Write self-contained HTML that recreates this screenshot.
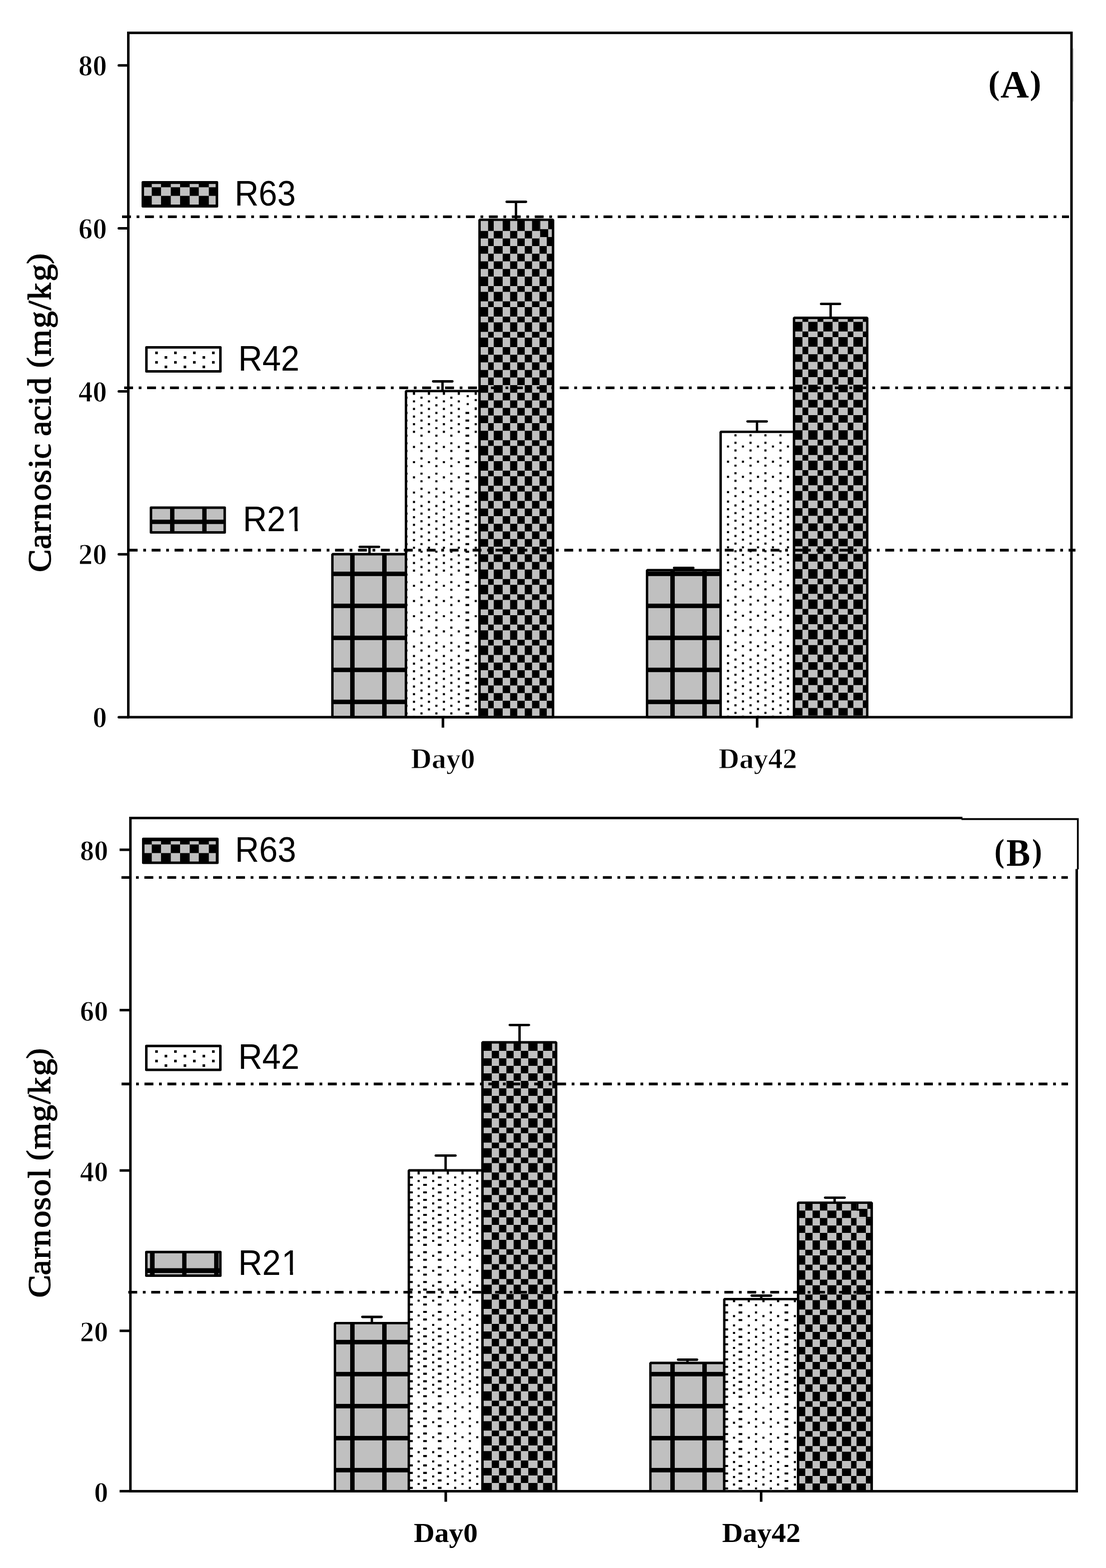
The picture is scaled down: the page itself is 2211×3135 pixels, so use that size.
<!DOCTYPE html>
<html lang="en">
<head>
<meta charset="utf-8">
<title>Carnosic acid and carnosol</title>
<style>
html,body{margin:0;padding:0;background:#fff}
svg{display:block}
</style>
</head>
<body>
<svg xmlns="http://www.w3.org/2000/svg" width="2211" height="3135" viewBox="0 0 2211 3135" shape-rendering="geometricPrecision">
<rect width="2211" height="3135" fill="#fff"/>
<defs>
<pattern id="grid" patternUnits="userSpaceOnUse" x="700" y="1142.9" width="64" height="64"><rect width="64" height="64" fill="#c0c0c0"/><rect width="8.9" height="64" fill="#000"/><rect width="64" height="8.9" fill="#000"/></pattern>
<clipPath id="k1"><rect x="813" y="783.2" width="144.2" height="650.7"/></clipPath>
<path id="d2" d="M825.5 0h4.2v4.2h-4.2zM855.4 0h4.2v4.2h-4.2zM885.3 0h4.2v4.2h-4.2zM915.1 0h4.2v4.2h-4.2zM948.9 0h4.2v4.2h-4.2z"/>
<path id="d3" d="M810.5 0h4.2v4.2h-4.2zM840.5 0h4.2v4.2h-4.2zM870.3 0h4.2v4.2h-4.2zM900.2 0h4.2v4.2h-4.2zM930.55 0h7.3v4.2h-7.3z"/>
<clipPath id="k4"><rect x="960" y="440.8" width="144.3" height="993.1"/></clipPath>
<path id="r5" d="M961 0h14.8v1h-14.8zM987 0h17.9v1h-17.9zM1019.8 0h14.3v1h-14.3zM1049 0h14.6v1h-14.6zM1078.5 0h14.5v1h-14.5z"/>
<path id="r6" d="M975.8 0h11.2v1h-11.2zM1004.9 0h14.9v1h-14.9zM1034.1 0h14.9v1h-14.9zM1063.6 0h14.9v1h-14.9zM1093 0h10.3v1h-10.3z"/>
<clipPath id="k7"><rect x="1442" y="864.8" width="143.9" height="569.1"/></clipPath>
<path id="d8" d="M1453.3 0h4.2v4.2h-4.2zM1483.1 0h4.2v4.2h-4.2zM1513.2 0h4.2v4.2h-4.2zM1543.1 0h4.2v4.2h-4.2zM1573.1 0h4.2v4.2h-4.2z"/>
<path id="d9" d="M1438.3 0h4.2v4.2h-4.2zM1468.2 0h4.2v4.2h-4.2zM1498.3 0h4.2v4.2h-4.2zM1528.1 0h4.2v4.2h-4.2zM1558.2 0h4.2v4.2h-4.2z"/>
<clipPath id="k10"><rect x="1588.7" y="636.9" width="143.6" height="797"/></clipPath>
<path id="r11" d="M1589 0h15.2v1h-15.2zM1615.8 0h18.6v1h-18.6zM1645.9 0h18.5v1h-18.5zM1676.1 0h18.6v1h-18.6zM1706 0h18.9v1h-18.9z"/>
<path id="r12" d="M1604.2 0h11.6v1h-11.6zM1634.4 0h11.5v1h-11.5zM1664.4 0h11.7v1h-11.7zM1694.7 0h11.3v1h-11.3zM1724.9 0h7.4v1h-7.4z"/>
<clipPath id="c13"><rect x="285.5" y="364.5" width="148.2" height="47.9"/></clipPath>
<clipPath id="k13"><rect x="818.7" y="2341.4" width="144.3" height="640"/></clipPath>
<path id="d14" d="M834.8 0h4.2v4.1h-4.2zM863.9 0h4.2v4.1h-4.2zM893.2 0h4.2v4.1h-4.2zM922.5 0h4.2v4.1h-4.2zM952 0h4.2v4.1h-4.2z"/>
<path id="d15" d="M817.95 0h7.3v4.1h-7.3zM846.05 0h7.3v4.1h-7.3zM875.35 0h7.3v4.1h-7.3zM907.9 0h4.2v4.1h-4.2zM937.2 0h4.2v4.1h-4.2z"/>
<clipPath id="k16"><rect x="965.8" y="2085.4" width="144.6" height="896"/></clipPath>
<path id="r17" d="M966.8 0h16.3v1h-16.3zM997.6 0h14.7v1h-14.7zM1026.8 0h14.5v1h-14.5zM1056.1 0h18.5v1h-18.5zM1085.7 0h18.4v1h-18.4z"/>
<path id="r18" d="M983.1 0h14.5v1h-14.5zM1012.3 0h14.5v1h-14.5zM1041.3 0h14.8v1h-14.8zM1074.6 0h11.1v1h-11.1zM1104.1 0h5.9v1h-5.9z"/>
<clipPath id="k19"><rect x="1449.3" y="2598.8" width="144.7" height="382.6"/></clipPath>
<path id="d20" d="M1465.3 0h4.2v4.1h-4.2zM1494.8 0h4.2v4.1h-4.2zM1524.1 0h4.2v4.1h-4.2zM1553.4 0h4.2v4.1h-4.2zM1586.9 0h4.2v4.1h-4.2z"/>
<path id="d21" d="M1448.25 0h7.3v4.1h-7.3zM1476.55 0h7.3v4.1h-7.3zM1509.3 0h4.2v4.1h-4.2zM1538.8 0h4.2v4.1h-4.2zM1568.45 0h7.3v4.1h-7.3z"/>
<clipPath id="k22"><rect x="1596.8" y="2406.1" width="144.5" height="575.3"/></clipPath>
<path id="r23" d="M1598 0h11.8v1h-11.8zM1624.4 0h14.7v1h-14.7zM1653.9 0h18.2v1h-18.2zM1683.2 0h18.2v1h-18.2zM1712.3 0h18.7v1h-18.7z"/>
<path id="r24" d="M1609.8 0h14.6v1h-14.6zM1639.1 0h14.8v1h-14.8zM1672.1 0h11.1v1h-11.1zM1701.4 0h10.9v1h-10.9zM1731 0h9v1h-9z"/>
<clipPath id="c26"><rect x="286.4" y="1677.2" width="148.2" height="47.8"/></clipPath>
</defs>
<!-- panel A -->
<rect x="664.5" y="1108" width="147.1" height="325.9" fill="url(#grid)" stroke="#000" stroke-width="4.8" stroke-linejoin="bevel"/>
<rect x="811.6" y="781.8" width="147" height="652.1" fill="#fff"/>
<g clip-path="url(#k1)" fill="#000">
<use href="#d2" y="770.03"/>
<use href="#d3" y="777.93"/>
<use href="#d2" y="783.2"/>
<use href="#d2" y="785.22"/>
<use href="#d3" y="793.12"/>
<use href="#d2" y="800.42"/>
<use href="#d3" y="808.32"/>
<use href="#d2" y="815.61"/>
<use href="#d3" y="823.51"/>
<use href="#d2" y="830.81"/>
<use href="#d3" y="838.71"/>
<use href="#d2" y="846"/>
<use href="#d3" y="853.9"/>
<use href="#d2" y="861.2"/>
<use href="#d3" y="869.1"/>
<use href="#d3" y="884.17"/>
<use href="#d2" y="891.56"/>
<use href="#d3" y="899.46"/>
<use href="#d3" y="914.53"/>
<use href="#d2" y="921.91"/>
<use href="#d3" y="929.81"/>
<use href="#d3" y="944.89"/>
<use href="#d2" y="952.27"/>
<use href="#d3" y="960.17"/>
<use href="#d3" y="975.24"/>
<use href="#d2" y="982.63"/>
<use href="#d3" y="990.53"/>
<use href="#d2" y="1001.6"/>
<use href="#d3" y="1009.5"/>
<use href="#d2" y="1016.84"/>
<use href="#d3" y="1024.74"/>
<use href="#d2" y="1032.09"/>
<use href="#d3" y="1039.99"/>
<use href="#d2" y="1047.33"/>
<use href="#d3" y="1055.23"/>
<use href="#d2" y="1062.58"/>
<use href="#d3" y="1070.48"/>
<use href="#d2" y="1077.82"/>
<use href="#d3" y="1085.72"/>
<use href="#d2" y="1093.07"/>
<use href="#d3" y="1100.97"/>
<use href="#d2" y="1108.31"/>
<use href="#d3" y="1116.21"/>
<use href="#d2" y="1123.56"/>
<use href="#d3" y="1131.46"/>
<use href="#d2" y="1138.8"/>
<use href="#d3" y="1146.7"/>
<use href="#d3" y="1161.78"/>
<use href="#d2" y="1169.16"/>
<use href="#d3" y="1177.06"/>
<use href="#d3" y="1192.14"/>
<use href="#d2" y="1199.53"/>
<use href="#d3" y="1207.43"/>
<use href="#d3" y="1222.51"/>
<use href="#d2" y="1229.89"/>
<use href="#d3" y="1237.79"/>
<use href="#d3" y="1252.87"/>
<use href="#d2" y="1260.26"/>
<use href="#d3" y="1268.16"/>
<use href="#d3" y="1283.24"/>
<use href="#d2" y="1290.62"/>
<use href="#d3" y="1298.52"/>
<use href="#d2" y="1309.6"/>
<use href="#d3" y="1317.5"/>
<use href="#d2" y="1324.85"/>
<use href="#d3" y="1332.75"/>
<use href="#d2" y="1340.1"/>
<use href="#d3" y="1348"/>
<use href="#d2" y="1355.35"/>
<use href="#d3" y="1363.25"/>
<use href="#d2" y="1370.6"/>
<use href="#d3" y="1378.5"/>
<use href="#d2" y="1385.85"/>
<use href="#d3" y="1393.75"/>
<use href="#d2" y="1401.1"/>
<use href="#d3" y="1409"/>
<use href="#d2" y="1416.35"/>
<use href="#d3" y="1424.25"/>
<use href="#d2" y="1431.6"/>
<use href="#d3" y="1439.5"/>
<rect x="929" y="790" width="11" height="25" fill="#fff"/>
<rect x="932.9" y="789.9" width="4.2" height="4.2" fill="#000"/>
<rect x="932.9" y="805.8" width="4.2" height="4.2" fill="#000"/>
<rect x="947.5" y="796" width="7.5" height="26" fill="#fff"/>
<rect x="948.9" y="797.8" width="4.2" height="4.2" fill="#000"/>
<rect x="948.9" y="814.5" width="4.2" height="5.2" fill="#000"/>
</g>
<rect x="811.6" y="781.8" width="147" height="652.1" fill="none" stroke="#000" stroke-width="4.8" stroke-linejoin="bevel"/>
<rect x="958.6" y="439.4" width="147.1" height="994.5" fill="#000"/>
<g clip-path="url(#k4)" fill="#c0c0c0">
<use href="#r5" transform="translate(0 441) scale(1 20.63)"/>
<use href="#r6" transform="translate(0 461.63) scale(1 15.23)"/>
<use href="#r5" transform="translate(0 476.86) scale(1 15.23)"/>
<use href="#r6" transform="translate(0 492.09) scale(1 15.23)"/>
<use href="#r5" transform="translate(0 507.31) scale(1 15.23)"/>
<use href="#r6" transform="translate(0 522.54) scale(1 15.23)"/>
<use href="#r5" transform="translate(0 537.77) scale(1 15.23)"/>
<use href="#r6" transform="translate(0 553) scale(1 19.06)"/>
<use href="#r5" transform="translate(0 572.06) scale(1 11.44)"/>
<use href="#r6" transform="translate(0 583.5) scale(1 19.06)"/>
<use href="#r5" transform="translate(0 602.56) scale(1 11.44)"/>
<use href="#r6" transform="translate(0 613.99) scale(1 19.06)"/>
<use href="#r5" transform="translate(0 633.06) scale(1 11.44)"/>
<use href="#r6" transform="translate(0 644.49) scale(1 19.06)"/>
<use href="#r5" transform="translate(0 663.55) scale(1 11.44)"/>
<use href="#r6" transform="translate(0 674.99) scale(1 19.06)"/>
<use href="#r5" transform="translate(0 694.05) scale(1 15.2)"/>
<use href="#r6" transform="translate(0 709.25) scale(1 15.2)"/>
<use href="#r5" transform="translate(0 724.44) scale(1 15.2)"/>
<use href="#r6" transform="translate(0 739.64) scale(1 15.2)"/>
<use href="#r5" transform="translate(0 754.83) scale(1 15.2)"/>
<use href="#r6" transform="translate(0 770.03) scale(1 15.2)"/>
<use href="#r5" transform="translate(0 785.22) scale(1 15.2)"/>
<use href="#r6" transform="translate(0 800.42) scale(1 15.2)"/>
<use href="#r5" transform="translate(0 815.61) scale(1 15.2)"/>
<use href="#r6" transform="translate(0 830.81) scale(1 15.2)"/>
<use href="#r5" transform="translate(0 846) scale(1 15.2)"/>
<use href="#r6" transform="translate(0 861.2) scale(1 18.97)"/>
<use href="#r5" transform="translate(0 880.17) scale(1 11.38)"/>
<use href="#r6" transform="translate(0 891.56) scale(1 18.97)"/>
<use href="#r5" transform="translate(0 910.53) scale(1 11.38)"/>
<use href="#r6" transform="translate(0 921.91) scale(1 18.97)"/>
<use href="#r5" transform="translate(0 940.89) scale(1 11.38)"/>
<use href="#r6" transform="translate(0 952.27) scale(1 18.97)"/>
<use href="#r5" transform="translate(0 971.24) scale(1 11.38)"/>
<use href="#r6" transform="translate(0 982.63) scale(1 18.97)"/>
<use href="#r5" transform="translate(0 1001.6) scale(1 15.24)"/>
<use href="#r6" transform="translate(0 1016.84) scale(1 15.24)"/>
<use href="#r5" transform="translate(0 1032.09) scale(1 15.24)"/>
<use href="#r6" transform="translate(0 1047.33) scale(1 15.24)"/>
<use href="#r5" transform="translate(0 1062.58) scale(1 15.24)"/>
<use href="#r6" transform="translate(0 1077.82) scale(1 15.24)"/>
<use href="#r5" transform="translate(0 1093.07) scale(1 15.24)"/>
<use href="#r6" transform="translate(0 1108.31) scale(1 15.24)"/>
<use href="#r5" transform="translate(0 1123.56) scale(1 15.24)"/>
<use href="#r6" transform="translate(0 1138.8) scale(1 18.98)"/>
<use href="#r5" transform="translate(0 1157.78) scale(1 11.39)"/>
<use href="#r6" transform="translate(0 1169.16) scale(1 18.98)"/>
<use href="#r5" transform="translate(0 1188.14) scale(1 11.39)"/>
<use href="#r6" transform="translate(0 1199.53) scale(1 18.98)"/>
<use href="#r5" transform="translate(0 1218.51) scale(1 11.39)"/>
<use href="#r6" transform="translate(0 1229.89) scale(1 18.98)"/>
<use href="#r5" transform="translate(0 1248.87) scale(1 11.39)"/>
<use href="#r6" transform="translate(0 1260.26) scale(1 18.98)"/>
<use href="#r5" transform="translate(0 1279.24) scale(1 11.39)"/>
<use href="#r6" transform="translate(0 1290.62) scale(1 18.98)"/>
<use href="#r5" transform="translate(0 1309.6) scale(1 15.25)"/>
<use href="#r6" transform="translate(0 1324.85) scale(1 15.25)"/>
<use href="#r5" transform="translate(0 1340.1) scale(1 15.25)"/>
<use href="#r6" transform="translate(0 1355.35) scale(1 15.25)"/>
<use href="#r5" transform="translate(0 1370.6) scale(1 15.25)"/>
<use href="#r6" transform="translate(0 1385.85) scale(1 15.25)"/>
<use href="#r5" transform="translate(0 1401.1) scale(1 15.25)"/>
<use href="#r6" transform="translate(0 1416.35) scale(1 15.25)"/>
<use href="#r5" transform="translate(0 1431.6) scale(1 15.25)"/>
<rect x="1078.5" y="440" width="25.5" height="37" fill="#000"/>
<rect x="1080.1" y="440" width="15.8" height="18.2" fill="#c0c0c0"/>
<rect x="1095.9" y="458.3" width="7.6" height="15.6" fill="#c0c0c0"/>
<rect x="1078" y="461.6" width="1.8" height="12.5" fill="#c0c0c0"/>
<rect x="1078.5" y="474" width="14.5" height="3.3" fill="#c0c0c0"/>
</g>
<rect x="958.6" y="439.4" width="147.1" height="994.5" fill="none" stroke="#000" stroke-width="4.8" stroke-linejoin="bevel"/>
<rect x="1293.5" y="1140" width="147.1" height="293.9" fill="url(#grid)" stroke="#000" stroke-width="4.8" stroke-linejoin="bevel"/>
<rect x="1440.6" y="863.4" width="146.7" height="570.5" fill="#fff"/>
<g clip-path="url(#k7)" fill="#000">
<use href="#d8" y="845.1"/>
<use href="#d9" y="853"/>
<use href="#d8" y="860.3"/>
<use href="#d9" y="868.2"/>
<use href="#d9" y="883.27"/>
<use href="#d8" y="890.66"/>
<use href="#d9" y="898.56"/>
<use href="#d9" y="913.63"/>
<use href="#d8" y="921.01"/>
<use href="#d9" y="928.91"/>
<use href="#d9" y="943.99"/>
<use href="#d8" y="951.37"/>
<use href="#d9" y="959.27"/>
<use href="#d9" y="974.34"/>
<use href="#d8" y="981.73"/>
<use href="#d9" y="989.63"/>
<use href="#d8" y="1000.7"/>
<use href="#d9" y="1008.6"/>
<use href="#d8" y="1015.94"/>
<use href="#d9" y="1023.84"/>
<use href="#d8" y="1031.19"/>
<use href="#d9" y="1039.09"/>
<use href="#d8" y="1046.43"/>
<use href="#d9" y="1054.33"/>
<use href="#d8" y="1061.68"/>
<use href="#d9" y="1069.58"/>
<use href="#d8" y="1076.92"/>
<use href="#d9" y="1084.82"/>
<use href="#d8" y="1092.17"/>
<use href="#d9" y="1100.07"/>
<use href="#d8" y="1107.41"/>
<use href="#d9" y="1115.31"/>
<use href="#d8" y="1122.66"/>
<use href="#d9" y="1130.56"/>
<use href="#d8" y="1137.9"/>
<use href="#d9" y="1145.8"/>
<use href="#d9" y="1160.88"/>
<use href="#d8" y="1168.26"/>
<use href="#d9" y="1176.16"/>
<use href="#d9" y="1191.24"/>
<use href="#d8" y="1198.63"/>
<use href="#d9" y="1206.53"/>
<use href="#d9" y="1221.61"/>
<use href="#d8" y="1228.99"/>
<use href="#d9" y="1236.89"/>
<use href="#d9" y="1251.97"/>
<use href="#d8" y="1259.36"/>
<use href="#d9" y="1267.26"/>
<use href="#d9" y="1282.34"/>
<use href="#d8" y="1289.72"/>
<use href="#d9" y="1297.62"/>
<use href="#d8" y="1308.7"/>
<use href="#d9" y="1316.6"/>
<use href="#d8" y="1323.95"/>
<use href="#d9" y="1331.85"/>
<use href="#d8" y="1339.2"/>
<use href="#d9" y="1347.1"/>
<use href="#d8" y="1354.45"/>
<use href="#d9" y="1362.35"/>
<use href="#d8" y="1369.7"/>
<use href="#d9" y="1377.6"/>
<use href="#d8" y="1384.95"/>
<use href="#d9" y="1392.85"/>
<use href="#d8" y="1400.2"/>
<use href="#d9" y="1408.1"/>
<use href="#d8" y="1415.45"/>
<use href="#d9" y="1423.35"/>
<use href="#d8" y="1430.7"/>
<use href="#d9" y="1438.6"/>
</g>
<rect x="1440.6" y="863.4" width="146.7" height="570.5" fill="none" stroke="#000" stroke-width="4.8" stroke-linejoin="bevel"/>
<rect x="1587.3" y="635.5" width="146.4" height="798.4" fill="#000"/>
<g clip-path="url(#k10)" fill="#c0c0c0">
<use href="#r11" transform="translate(0 632.16) scale(1 11.44)"/>
<use href="#r12" transform="translate(0 643.59) scale(1 19.06)"/>
<use href="#r11" transform="translate(0 662.65) scale(1 11.44)"/>
<use href="#r12" transform="translate(0 674.09) scale(1 19.06)"/>
<use href="#r11" transform="translate(0 693.15) scale(1 15.2)"/>
<use href="#r12" transform="translate(0 708.35) scale(1 15.2)"/>
<use href="#r11" transform="translate(0 723.54) scale(1 15.2)"/>
<use href="#r12" transform="translate(0 738.74) scale(1 15.2)"/>
<use href="#r11" transform="translate(0 753.93) scale(1 15.2)"/>
<use href="#r12" transform="translate(0 769.13) scale(1 15.2)"/>
<use href="#r11" transform="translate(0 784.32) scale(1 15.2)"/>
<use href="#r12" transform="translate(0 799.52) scale(1 15.2)"/>
<use href="#r11" transform="translate(0 814.71) scale(1 15.2)"/>
<use href="#r12" transform="translate(0 829.91) scale(1 15.2)"/>
<use href="#r11" transform="translate(0 845.1) scale(1 15.2)"/>
<use href="#r12" transform="translate(0 860.3) scale(1 18.97)"/>
<use href="#r11" transform="translate(0 879.27) scale(1 11.38)"/>
<use href="#r12" transform="translate(0 890.66) scale(1 18.97)"/>
<use href="#r11" transform="translate(0 909.63) scale(1 11.38)"/>
<use href="#r12" transform="translate(0 921.01) scale(1 18.97)"/>
<use href="#r11" transform="translate(0 939.99) scale(1 11.38)"/>
<use href="#r12" transform="translate(0 951.37) scale(1 18.97)"/>
<use href="#r11" transform="translate(0 970.34) scale(1 11.38)"/>
<use href="#r12" transform="translate(0 981.73) scale(1 18.97)"/>
<use href="#r11" transform="translate(0 1000.7) scale(1 15.24)"/>
<use href="#r12" transform="translate(0 1015.94) scale(1 15.24)"/>
<use href="#r11" transform="translate(0 1031.19) scale(1 15.24)"/>
<use href="#r12" transform="translate(0 1046.43) scale(1 15.24)"/>
<use href="#r11" transform="translate(0 1061.68) scale(1 15.24)"/>
<use href="#r12" transform="translate(0 1076.92) scale(1 15.24)"/>
<use href="#r11" transform="translate(0 1092.17) scale(1 15.24)"/>
<use href="#r12" transform="translate(0 1107.41) scale(1 15.24)"/>
<use href="#r11" transform="translate(0 1122.66) scale(1 15.24)"/>
<use href="#r12" transform="translate(0 1137.9) scale(1 18.98)"/>
<use href="#r11" transform="translate(0 1156.88) scale(1 11.39)"/>
<use href="#r12" transform="translate(0 1168.26) scale(1 18.98)"/>
<use href="#r11" transform="translate(0 1187.24) scale(1 11.39)"/>
<use href="#r12" transform="translate(0 1198.63) scale(1 18.98)"/>
<use href="#r11" transform="translate(0 1217.61) scale(1 11.39)"/>
<use href="#r12" transform="translate(0 1228.99) scale(1 18.98)"/>
<use href="#r11" transform="translate(0 1247.97) scale(1 11.39)"/>
<use href="#r12" transform="translate(0 1259.36) scale(1 18.98)"/>
<use href="#r11" transform="translate(0 1278.34) scale(1 11.39)"/>
<use href="#r12" transform="translate(0 1289.72) scale(1 18.98)"/>
<use href="#r11" transform="translate(0 1308.7) scale(1 15.25)"/>
<use href="#r12" transform="translate(0 1323.95) scale(1 15.25)"/>
<use href="#r11" transform="translate(0 1339.2) scale(1 15.25)"/>
<use href="#r12" transform="translate(0 1354.45) scale(1 15.25)"/>
<use href="#r11" transform="translate(0 1369.7) scale(1 15.25)"/>
<use href="#r12" transform="translate(0 1384.95) scale(1 15.25)"/>
<use href="#r11" transform="translate(0 1400.2) scale(1 15.25)"/>
<use href="#r12" transform="translate(0 1415.45) scale(1 15.25)"/>
<use href="#r11" transform="translate(0 1430.7) scale(1 15.25)"/>
</g>
<rect x="1587.3" y="635.5" width="146.4" height="798.4" fill="none" stroke="#000" stroke-width="4.8" stroke-linejoin="bevel"/>
<rect x="256.5" y="65.7" width="1885.5" height="1368.2" fill="none" stroke="#000" stroke-width="5"/>
<path d="M237.5 1433.9H256.5" stroke="#000" stroke-width="5" stroke-linecap="round" fill="none"/>
<text transform="translate(213.7 1454.1) scale(1 1.024)" font-family='"Liberation Serif", "DejaVu Serif", serif' font-size="57" font-weight="bold" text-anchor="end" fill="#000" stroke="#fff" stroke-width="1.2">0</text>
<path d="M237.5 1108.14H256.5" stroke="#000" stroke-width="5" stroke-linecap="round" fill="none"/>
<text transform="translate(213.7 1128.34) scale(1 1.024)" font-family='"Liberation Serif", "DejaVu Serif", serif' font-size="57" font-weight="bold" text-anchor="end" fill="#000" stroke="#fff" stroke-width="1.2">20</text>
<path d="M237.5 782.38H256.5" stroke="#000" stroke-width="5" stroke-linecap="round" fill="none"/>
<text transform="translate(213.7 802.58) scale(1 1.024)" font-family='"Liberation Serif", "DejaVu Serif", serif' font-size="57" font-weight="bold" text-anchor="end" fill="#000" stroke="#fff" stroke-width="1.2">40</text>
<path d="M237.5 456.62H256.5" stroke="#000" stroke-width="5" stroke-linecap="round" fill="none"/>
<text transform="translate(213.7 476.82) scale(1 1.024)" font-family='"Liberation Serif", "DejaVu Serif", serif' font-size="57" font-weight="bold" text-anchor="end" fill="#000" stroke="#fff" stroke-width="1.2">60</text>
<path d="M237.5 130.86H256.5" stroke="#000" stroke-width="5" stroke-linecap="round" fill="none"/>
<text transform="translate(213.7 151.06) scale(1 1.024)" font-family='"Liberation Serif", "DejaVu Serif", serif' font-size="57" font-weight="bold" text-anchor="end" fill="#000" stroke="#fff" stroke-width="1.2">80</text>
<path d="M885.5 1433.9V1454.8" stroke="#000" stroke-width="5.2" fill="none"/>
<text transform="translate(885.5 1536.3) scale(1 0.992)" font-family='"Liberation Serif", "DejaVu Serif", serif' font-size="57.8" font-weight="bold" text-anchor="middle" fill="#000" stroke="#fff" stroke-width="1">Day0</text>
<path d="M1513.6 1433.9V1454.8" stroke="#000" stroke-width="5.2" fill="none"/>
<text transform="translate(1514.8 1536.3) scale(1 0.992)" font-family='"Liberation Serif", "DejaVu Serif", serif' font-size="57.8" font-weight="bold" text-anchor="middle" fill="#000" stroke="#fff" stroke-width="1">Day42</text>
<path d="M738.6 1093.4V1108" stroke="#000" stroke-width="4.8" fill="none"/>
<path d="M719.1 1093.4H757.7" stroke="#000" stroke-width="4.8" stroke-linecap="round" fill="none"/>
<path d="M884.6 762.5V781.8" stroke="#000" stroke-width="4.8" fill="none"/>
<path d="M865.9 762.5H904.4" stroke="#000" stroke-width="4.8" stroke-linecap="round" fill="none"/>
<path d="M1031.5 403.5V439.4" stroke="#000" stroke-width="4.8" fill="none"/>
<path d="M1012.8 403.5H1051.5" stroke="#000" stroke-width="4.8" stroke-linecap="round" fill="none"/>
<path d="M1366.8 1135.5V1140" stroke="#000" stroke-width="4.8" fill="none"/>
<path d="M1347.5 1135.5H1386.1" stroke="#000" stroke-width="4.8" stroke-linecap="round" fill="none"/>
<path d="M1513.3 842.6V863.4" stroke="#000" stroke-width="4.8" fill="none"/>
<path d="M1494.3 842.6H1532.8" stroke="#000" stroke-width="4.8" stroke-linecap="round" fill="none"/>
<path d="M1660.5 607.7V635.5" stroke="#000" stroke-width="4.8" fill="none"/>
<path d="M1641.4 607.7H1679.3" stroke="#000" stroke-width="4.8" stroke-linecap="round" fill="none"/>
<path d="M244 433.4H2137" stroke="#000" stroke-width="5.4" stroke-dasharray="17.8 11.3 5.5 11.23" fill="none"/>
<path d="M248.2 775.4H2141" stroke="#000" stroke-width="5.4" stroke-dasharray="17.8 11.3 5.5 11.23" fill="none"/>
<path d="M257.3 1100H2150" stroke="#000" stroke-width="5.4" stroke-dasharray="17.8 11.3 5.5 11.23" fill="none"/>
<rect x="285.5" y="364.5" width="148.2" height="47.9" fill="#000"/>
<g clip-path="url(#c13)" fill="#c0c0c0">
<rect x="303.4" y="367.8" width="18.5" height="6.6"/>
<rect x="341.4" y="367.8" width="18.6" height="6.6"/>
<rect x="379.2" y="367.8" width="18.2" height="6.6"/>
<rect x="417.5" y="367.8" width="13.9" height="6.6"/>
<rect x="288" y="374.4" width="15.4" height="17.2"/>
<rect x="321.9" y="374.4" width="19.5" height="17.2"/>
<rect x="360" y="374.4" width="19.2" height="17.2"/>
<rect x="397.4" y="374.4" width="20.1" height="17.2"/>
<rect x="303.4" y="391.6" width="18.5" height="17.4"/>
<rect x="341.4" y="391.6" width="18.6" height="17.4"/>
<rect x="379.2" y="391.6" width="18.2" height="17.4"/>
<rect x="417.5" y="391.6" width="13.9" height="17.4"/>
</g>
<rect x="285.5" y="364.5" width="148.2" height="47.9" fill="none" stroke="#000" stroke-width="5" stroke-linejoin="round"/>
<text transform="translate(468.9 411) scale(1 1.045)" font-family='"Liberation Sans", "DejaVu Sans", sans-serif' font-size="66.7" font-weight="normal" text-anchor="start" fill="#000">R63</text>
<rect x="292.7" y="694.4" width="147.9" height="48.1" fill="#fff" stroke="#000" stroke-width="5" stroke-linejoin="round"/>
<rect x="310.3" y="702.9" width="5.2" height="5.2" fill="#000"/>
<rect x="348.1" y="702.9" width="5.2" height="5.2" fill="#000"/>
<rect x="385.9" y="702.9" width="5.2" height="5.2" fill="#000"/>
<rect x="423.9" y="702.9" width="5.2" height="5.2" fill="#000"/>
<rect x="329.1" y="712" width="5.2" height="5.2" fill="#000"/>
<rect x="367.1" y="712" width="5.2" height="5.2" fill="#000"/>
<rect x="404.9" y="712" width="5.2" height="5.2" fill="#000"/>
<rect x="310.3" y="721.9" width="5.2" height="5.2" fill="#000"/>
<rect x="348.1" y="721.9" width="5.2" height="5.2" fill="#000"/>
<rect x="385.9" y="721.9" width="5.2" height="5.2" fill="#000"/>
<rect x="423.9" y="721.9" width="5.2" height="5.2" fill="#000"/>
<rect x="329.1" y="731" width="5.2" height="5.2" fill="#000"/>
<rect x="367.1" y="731" width="5.2" height="5.2" fill="#000"/>
<rect x="404.9" y="731" width="5.2" height="5.2" fill="#000"/>
<text transform="translate(476.3 741) scale(1 1.045)" font-family='"Liberation Sans", "DejaVu Sans", sans-serif' font-size="66.7" font-weight="normal" text-anchor="start" fill="#000">R42</text>
<rect x="301.8" y="1015.1" width="147.4" height="49.4" fill="#c0c0c0"/>
<rect x="340" y="1015.1" width="8.7" height="49.4" fill="#000"/>
<rect x="404.3" y="1015.1" width="8.7" height="49.4" fill="#000"/>
<rect x="301.8" y="1039" width="147.4" height="8.7" fill="#000"/>
<rect x="301.8" y="1015.1" width="147.4" height="49.4" fill="none" stroke="#000" stroke-width="5" stroke-linejoin="round"/>
<text transform="translate(485.5 1061.8) scale(1 1.045)" font-family='"Liberation Sans", "DejaVu Sans", sans-serif' font-size="66.7" font-weight="normal" text-anchor="start" fill="#000">R2<tspan dx="1.3">1</tspan></text>
<rect x="574.07" y="1054.13" width="14.91" height="10.67" fill="#fff"/>
<rect x="594.98" y="1054.13" width="14.67" height="10.67" fill="#fff"/>
<text transform="translate(100.7 1142.3) rotate(-90) scale(1 0.94)" font-family='"Liberation Serif", "DejaVu Serif", serif' font-size="69" font-weight="normal" stroke="#000" stroke-width="1.6" stroke-linejoin="round" fill="#000" xml:space="preserve"><tspan x="-1.67" y="0">C</tspan><tspan x="44.26" y="0">a</tspan><tspan x="76.8" y="0">r</tspan><tspan x="102.2" y="0">n</tspan><tspan x="140.85" y="0">o</tspan><tspan x="176.37" y="0">s</tspan><tspan x="205.64" y="0">i</tspan><tspan x="224.85" y="0">c</tspan><tspan x="255.48" y="0"> </tspan><tspan x="270.36" y="0">a</tspan><tspan x="300.85" y="0">c</tspan><tspan x="331.64" y="0">i</tspan><tspan x="353.34" y="0">d</tspan><tspan x="387.84" y="0"> </tspan><tspan x="406.98" y="-6.6" font-size="63">(</tspan><tspan x="429.84" y="0">m</tspan><tspan x="485.79" y="0">g</tspan><tspan x="521.81" y="0">/</tspan><tspan x="542.26" y="0">k</tspan><tspan x="579.69" y="0">g</tspan><tspan x="614.67" y="-6.6" font-size="63">)</tspan></text>
<text font-family='"Liberation Serif", "DejaVu Serif", serif' font-weight="bold" fill="#000"><tspan x="1975.7" y="187.9" font-size="68.3">(</tspan><tspan x="2000" y="194.9" font-size="78.7">A</tspan><tspan x="2058.8" y="187.9" font-size="68.3">)</tspan></text>
<rect x="2144.4" y="97" width="1.2" height="106" fill="#888"/>
<!-- panel B -->
<rect x="669.6" y="2645.4" width="147.7" height="336" fill="url(#grid)" stroke="#000" stroke-width="4.8" stroke-linejoin="bevel"/>
<rect x="817.3" y="2340" width="147.1" height="641.4" fill="#fff"/>
<g clip-path="url(#k13)" fill="#000">
<use href="#d14" y="2325.54"/>
<use href="#d15" y="2333.34"/>
<use href="#d14" y="2341.4"/>
<use href="#d14" y="2344.2"/>
<use href="#d15" y="2352"/>
<use href="#d14" y="2359.18"/>
<use href="#d15" y="2366.98"/>
<use href="#d14" y="2374.16"/>
<use href="#d15" y="2381.96"/>
<use href="#d14" y="2389.13"/>
<use href="#d15" y="2396.93"/>
<use href="#d14" y="2404.11"/>
<use href="#d15" y="2411.91"/>
<use href="#d14" y="2419.09"/>
<use href="#d15" y="2426.89"/>
<use href="#d14" y="2434.07"/>
<use href="#d15" y="2441.87"/>
<use href="#d14" y="2449.04"/>
<use href="#d15" y="2456.84"/>
<use href="#d14" y="2464.02"/>
<use href="#d15" y="2471.82"/>
<use href="#d14" y="2479"/>
<use href="#d15" y="2486.8"/>
<use href="#d15" y="2501.56"/>
<use href="#d14" y="2508.85"/>
<use href="#d15" y="2516.65"/>
<use href="#d15" y="2531.4"/>
<use href="#d14" y="2538.7"/>
<use href="#d15" y="2546.5"/>
<use href="#d15" y="2561.25"/>
<use href="#d14" y="2568.55"/>
<use href="#d15" y="2576.35"/>
<use href="#d15" y="2591.1"/>
<use href="#d14" y="2598.4"/>
<use href="#d15" y="2606.2"/>
<use href="#d15" y="2620.95"/>
<use href="#d14" y="2628.24"/>
<use href="#d15" y="2636.04"/>
<use href="#d14" y="2646.9"/>
<use href="#d15" y="2654.7"/>
<use href="#d14" y="2661.88"/>
<use href="#d15" y="2669.68"/>
<use href="#d14" y="2676.86"/>
<use href="#d15" y="2684.66"/>
<use href="#d14" y="2691.83"/>
<use href="#d15" y="2699.63"/>
<use href="#d14" y="2706.81"/>
<use href="#d15" y="2714.61"/>
<use href="#d14" y="2721.79"/>
<use href="#d15" y="2729.59"/>
<use href="#d14" y="2736.77"/>
<use href="#d15" y="2744.57"/>
<use href="#d14" y="2751.74"/>
<use href="#d15" y="2759.54"/>
<use href="#d14" y="2766.72"/>
<use href="#d15" y="2774.52"/>
<use href="#d14" y="2781.7"/>
<use href="#d15" y="2789.5"/>
<use href="#d15" y="2804.29"/>
<use href="#d14" y="2811.6"/>
<use href="#d15" y="2819.4"/>
<use href="#d15" y="2834.19"/>
<use href="#d14" y="2841.51"/>
<use href="#d15" y="2849.31"/>
<use href="#d15" y="2864.09"/>
<use href="#d14" y="2871.41"/>
<use href="#d15" y="2879.21"/>
<use href="#d15" y="2894"/>
<use href="#d14" y="2901.31"/>
<use href="#d15" y="2909.11"/>
<use href="#d14" y="2920"/>
<use href="#d15" y="2927.8"/>
<use href="#d14" y="2935"/>
<use href="#d15" y="2942.8"/>
<use href="#d14" y="2950"/>
<use href="#d15" y="2957.8"/>
<use href="#d14" y="2965"/>
<use href="#d15" y="2972.8"/>
<use href="#d14" y="2980"/>
<use href="#d15" y="2987.8"/>
</g>
<rect x="817.3" y="2340" width="147.1" height="641.4" fill="none" stroke="#000" stroke-width="4.8" stroke-linejoin="bevel"/>
<rect x="964.4" y="2084" width="147.4" height="897.4" fill="#000"/>
<g clip-path="url(#k16)" fill="#c0c0c0">
<use href="#r18" transform="translate(0 2085.9) scale(1 15.03)"/>
<use href="#r17" transform="translate(0 2100.93) scale(1 15.03)"/>
<use href="#r18" transform="translate(0 2115.95) scale(1 15.03)"/>
<use href="#r17" transform="translate(0 2130.98) scale(1 15.03)"/>
<use href="#r18" transform="translate(0 2146) scale(1 15.03)"/>
<use href="#r17" transform="translate(0 2161.03) scale(1 15.03)"/>
<use href="#r18" transform="translate(0 2176.05) scale(1 15.03)"/>
<use href="#r17" transform="translate(0 2191.08) scale(1 15.03)"/>
<use href="#r18" transform="translate(0 2206.1) scale(1 18.66)"/>
<use href="#r17" transform="translate(0 2224.76) scale(1 11.2)"/>
<use href="#r18" transform="translate(0 2235.96) scale(1 18.66)"/>
<use href="#r17" transform="translate(0 2254.62) scale(1 11.2)"/>
<use href="#r18" transform="translate(0 2265.82) scale(1 18.66)"/>
<use href="#r17" transform="translate(0 2284.48) scale(1 11.2)"/>
<use href="#r18" transform="translate(0 2295.68) scale(1 18.66)"/>
<use href="#r17" transform="translate(0 2314.34) scale(1 11.2)"/>
<use href="#r18" transform="translate(0 2325.54) scale(1 18.66)"/>
<use href="#r17" transform="translate(0 2344.2) scale(1 14.98)"/>
<use href="#r18" transform="translate(0 2359.18) scale(1 14.98)"/>
<use href="#r17" transform="translate(0 2374.16) scale(1 14.98)"/>
<use href="#r18" transform="translate(0 2389.13) scale(1 14.98)"/>
<use href="#r17" transform="translate(0 2404.11) scale(1 14.98)"/>
<use href="#r18" transform="translate(0 2419.09) scale(1 14.98)"/>
<use href="#r17" transform="translate(0 2434.07) scale(1 14.98)"/>
<use href="#r18" transform="translate(0 2449.04) scale(1 14.98)"/>
<use href="#r17" transform="translate(0 2464.02) scale(1 14.98)"/>
<use href="#r18" transform="translate(0 2479) scale(1 18.66)"/>
<use href="#r17" transform="translate(0 2497.66) scale(1 11.19)"/>
<use href="#r18" transform="translate(0 2508.85) scale(1 18.66)"/>
<use href="#r17" transform="translate(0 2527.5) scale(1 11.19)"/>
<use href="#r18" transform="translate(0 2538.7) scale(1 18.66)"/>
<use href="#r17" transform="translate(0 2557.35) scale(1 11.19)"/>
<use href="#r18" transform="translate(0 2568.55) scale(1 18.66)"/>
<use href="#r17" transform="translate(0 2587.2) scale(1 11.19)"/>
<use href="#r18" transform="translate(0 2598.4) scale(1 18.66)"/>
<use href="#r17" transform="translate(0 2617.05) scale(1 11.19)"/>
<use href="#r18" transform="translate(0 2628.24) scale(1 18.66)"/>
<use href="#r17" transform="translate(0 2646.9) scale(1 14.98)"/>
<use href="#r18" transform="translate(0 2661.88) scale(1 14.98)"/>
<use href="#r17" transform="translate(0 2676.86) scale(1 14.98)"/>
<use href="#r18" transform="translate(0 2691.83) scale(1 14.98)"/>
<use href="#r17" transform="translate(0 2706.81) scale(1 14.98)"/>
<use href="#r18" transform="translate(0 2721.79) scale(1 14.98)"/>
<use href="#r17" transform="translate(0 2736.77) scale(1 14.98)"/>
<use href="#r18" transform="translate(0 2751.74) scale(1 14.98)"/>
<use href="#r17" transform="translate(0 2766.72) scale(1 14.98)"/>
<use href="#r18" transform="translate(0 2781.7) scale(1 18.69)"/>
<use href="#r17" transform="translate(0 2800.39) scale(1 11.21)"/>
<use href="#r18" transform="translate(0 2811.6) scale(1 18.69)"/>
<use href="#r17" transform="translate(0 2830.29) scale(1 11.21)"/>
<use href="#r18" transform="translate(0 2841.51) scale(1 18.69)"/>
<use href="#r17" transform="translate(0 2860.19) scale(1 11.21)"/>
<use href="#r18" transform="translate(0 2871.41) scale(1 18.69)"/>
<use href="#r17" transform="translate(0 2890.1) scale(1 11.21)"/>
<use href="#r18" transform="translate(0 2901.31) scale(1 18.69)"/>
<use href="#r17" transform="translate(0 2920) scale(1 15)"/>
<use href="#r18" transform="translate(0 2935) scale(1 15)"/>
<use href="#r17" transform="translate(0 2950) scale(1 15)"/>
<use href="#r18" transform="translate(0 2965) scale(1 15)"/>
<use href="#r17" transform="translate(0 2980) scale(1 15)"/>
</g>
<rect x="964.4" y="2084" width="147.4" height="897.4" fill="none" stroke="#000" stroke-width="4.8" stroke-linejoin="bevel"/>
<rect x="1300.2" y="2725" width="147.7" height="256.4" fill="url(#grid)" stroke="#000" stroke-width="4.8" stroke-linejoin="bevel"/>
<rect x="1447.9" y="2597.4" width="147.5" height="384" fill="#fff"/>
<g clip-path="url(#k19)" fill="#000">
<use href="#d21" y="2592.2"/>
<use href="#d20" y="2598.8"/>
<use href="#d20" y="2599.5"/>
<use href="#d21" y="2607.3"/>
<use href="#d21" y="2622.05"/>
<use href="#d20" y="2629.34"/>
<use href="#d21" y="2637.14"/>
<use href="#d20" y="2648"/>
<use href="#d21" y="2655.8"/>
<use href="#d20" y="2662.98"/>
<use href="#d21" y="2670.78"/>
<use href="#d20" y="2677.96"/>
<use href="#d21" y="2685.76"/>
<use href="#d20" y="2692.93"/>
<use href="#d21" y="2700.73"/>
<use href="#d20" y="2707.91"/>
<use href="#d21" y="2715.71"/>
<use href="#d20" y="2722.89"/>
<use href="#d21" y="2730.69"/>
<use href="#d20" y="2737.87"/>
<use href="#d21" y="2745.67"/>
<use href="#d20" y="2752.84"/>
<use href="#d21" y="2760.64"/>
<use href="#d20" y="2767.82"/>
<use href="#d21" y="2775.62"/>
<use href="#d20" y="2782.8"/>
<use href="#d21" y="2790.6"/>
<use href="#d21" y="2805.39"/>
<use href="#d20" y="2812.7"/>
<use href="#d21" y="2820.5"/>
<use href="#d21" y="2835.29"/>
<use href="#d20" y="2842.61"/>
<use href="#d21" y="2850.41"/>
<use href="#d21" y="2865.19"/>
<use href="#d20" y="2872.51"/>
<use href="#d21" y="2880.31"/>
<use href="#d21" y="2895.1"/>
<use href="#d20" y="2902.41"/>
<use href="#d21" y="2910.21"/>
<use href="#d20" y="2921.1"/>
<use href="#d21" y="2928.9"/>
<use href="#d20" y="2936.1"/>
<use href="#d21" y="2943.9"/>
<use href="#d20" y="2951.1"/>
<use href="#d21" y="2958.9"/>
<use href="#d20" y="2966.1"/>
<use href="#d21" y="2973.9"/>
<use href="#d20" y="2981.1"/>
<use href="#d21" y="2988.9"/>
</g>
<rect x="1447.9" y="2597.4" width="147.5" height="384" fill="none" stroke="#000" stroke-width="4.8" stroke-linejoin="bevel"/>
<rect x="1595.4" y="2404.7" width="147.3" height="576.7" fill="#000"/>
<g clip-path="url(#k22)" fill="#c0c0c0">
<use href="#r23" transform="translate(0 2405.21) scale(1 14.98)"/>
<use href="#r24" transform="translate(0 2420.19) scale(1 14.98)"/>
<use href="#r23" transform="translate(0 2435.17) scale(1 14.98)"/>
<use href="#r24" transform="translate(0 2450.14) scale(1 14.98)"/>
<use href="#r23" transform="translate(0 2465.12) scale(1 14.98)"/>
<use href="#r24" transform="translate(0 2480.1) scale(1 18.66)"/>
<use href="#r23" transform="translate(0 2498.76) scale(1 11.19)"/>
<use href="#r24" transform="translate(0 2509.95) scale(1 18.66)"/>
<use href="#r23" transform="translate(0 2528.6) scale(1 11.19)"/>
<use href="#r24" transform="translate(0 2539.8) scale(1 18.66)"/>
<use href="#r23" transform="translate(0 2558.45) scale(1 11.19)"/>
<use href="#r24" transform="translate(0 2569.65) scale(1 18.66)"/>
<use href="#r23" transform="translate(0 2588.3) scale(1 11.19)"/>
<use href="#r24" transform="translate(0 2599.5) scale(1 18.66)"/>
<use href="#r23" transform="translate(0 2618.15) scale(1 11.19)"/>
<use href="#r24" transform="translate(0 2629.34) scale(1 18.66)"/>
<use href="#r23" transform="translate(0 2648) scale(1 14.98)"/>
<use href="#r24" transform="translate(0 2662.98) scale(1 14.98)"/>
<use href="#r23" transform="translate(0 2677.96) scale(1 14.98)"/>
<use href="#r24" transform="translate(0 2692.93) scale(1 14.98)"/>
<use href="#r23" transform="translate(0 2707.91) scale(1 14.98)"/>
<use href="#r24" transform="translate(0 2722.89) scale(1 14.98)"/>
<use href="#r23" transform="translate(0 2737.87) scale(1 14.98)"/>
<use href="#r24" transform="translate(0 2752.84) scale(1 14.98)"/>
<use href="#r23" transform="translate(0 2767.82) scale(1 14.98)"/>
<use href="#r24" transform="translate(0 2782.8) scale(1 18.69)"/>
<use href="#r23" transform="translate(0 2801.49) scale(1 11.21)"/>
<use href="#r24" transform="translate(0 2812.7) scale(1 18.69)"/>
<use href="#r23" transform="translate(0 2831.39) scale(1 11.21)"/>
<use href="#r24" transform="translate(0 2842.61) scale(1 18.69)"/>
<use href="#r23" transform="translate(0 2861.29) scale(1 11.21)"/>
<use href="#r24" transform="translate(0 2872.51) scale(1 18.69)"/>
<use href="#r23" transform="translate(0 2891.2) scale(1 11.21)"/>
<use href="#r24" transform="translate(0 2902.41) scale(1 18.69)"/>
<use href="#r23" transform="translate(0 2921.1) scale(1 15)"/>
<use href="#r24" transform="translate(0 2936.1) scale(1 15)"/>
<use href="#r23" transform="translate(0 2951.1) scale(1 15)"/>
<use href="#r24" transform="translate(0 2966.1) scale(1 15)"/>
<use href="#r23" transform="translate(0 2981.1) scale(1 15)"/>
<rect x="1712.3" y="2404" width="29" height="31.3" fill="#000"/>
<rect x="1716.1" y="2404" width="17.8" height="13" fill="#c0c0c0"/>
<rect x="1734.1" y="2417" width="6.4" height="15.9" fill="#c0c0c0"/>
<rect x="1712" y="2420.7" width="5.9" height="12.5" fill="#c0c0c0"/>
<rect x="1712.3" y="2432.9" width="18.7" height="2.8" fill="#c0c0c0"/>
</g>
<rect x="1595.4" y="2404.7" width="147.3" height="576.7" fill="none" stroke="#000" stroke-width="4.8" stroke-linejoin="bevel"/>
<path d="M1924 1635.5H260.7V2981.4H2152.5V1737.4" fill="none" stroke="#000" stroke-width="5"/><path d="M1922 1637.6H2154.7V1738" fill="none" stroke="#000" stroke-width="3.6"/>
<path d="M239.1 2981.4H260.7" stroke="#000" stroke-width="5" fill="none"/>
<text transform="translate(216.4 3002.7) scale(1 1.003)" font-family='"Liberation Serif", "DejaVu Serif", serif' font-size="56.7" font-weight="bold" text-anchor="end" fill="#000" stroke="#fff" stroke-width="1.2">0</text>
<path d="M239.1 2660.8H260.7" stroke="#000" stroke-width="5" fill="none"/>
<text transform="translate(216.4 2682.1) scale(1 1.003)" font-family='"Liberation Serif", "DejaVu Serif", serif' font-size="56.7" font-weight="bold" text-anchor="end" fill="#000" stroke="#fff" stroke-width="1.2">20</text>
<path d="M239.1 2340.2H260.7" stroke="#000" stroke-width="5" fill="none"/>
<text transform="translate(216.4 2361.5) scale(1 1.003)" font-family='"Liberation Serif", "DejaVu Serif", serif' font-size="56.7" font-weight="bold" text-anchor="end" fill="#000" stroke="#fff" stroke-width="1.2">40</text>
<path d="M239.1 2019.6H260.7" stroke="#000" stroke-width="5" fill="none"/>
<text transform="translate(216.4 2040.9) scale(1 1.003)" font-family='"Liberation Serif", "DejaVu Serif", serif' font-size="56.7" font-weight="bold" text-anchor="end" fill="#000" stroke="#fff" stroke-width="1.2">60</text>
<path d="M239.1 1699H260.7" stroke="#000" stroke-width="5" fill="none"/>
<text transform="translate(216.4 1720.3) scale(1 1.003)" font-family='"Liberation Serif", "DejaVu Serif", serif' font-size="56.7" font-weight="bold" text-anchor="end" fill="#000" stroke="#fff" stroke-width="1.2">80</text>
<path d="M891.1 2981.4V3002.6" stroke="#000" stroke-width="5.2" fill="none"/>
<text transform="translate(891.1 3083.1) scale(1 0.955)" font-family='"Liberation Serif", "DejaVu Serif", serif' font-size="57.6" font-weight="bold" text-anchor="middle" fill="#000">Day0</text>
<path d="M1521.6 2981.4V3002.6" stroke="#000" stroke-width="5.2" fill="none"/>
<text transform="translate(1521.8 3083.1) scale(1 0.955)" font-family='"Liberation Serif", "DejaVu Serif", serif' font-size="57.6" font-weight="bold" text-anchor="middle" fill="#000">Day42</text>
<path d="M743.4 2633V2645.4" stroke="#000" stroke-width="4.8" fill="none"/>
<path d="M724.3 2633H762.9" stroke="#000" stroke-width="4.8" stroke-linecap="round" fill="none"/>
<path d="M890.8 2310.4V2340" stroke="#000" stroke-width="4.8" fill="none"/>
<path d="M871.1 2310.4H910.6" stroke="#000" stroke-width="4.8" stroke-linecap="round" fill="none"/>
<path d="M1038.6 2049.3V2084" stroke="#000" stroke-width="4.8" fill="none"/>
<path d="M1019.1 2049.3H1057.4" stroke="#000" stroke-width="4.8" stroke-linecap="round" fill="none"/>
<path d="M1374.3 2718.5V2725" stroke="#000" stroke-width="4.8" fill="none"/>
<path d="M1355.5 2718.5H1393.5" stroke="#000" stroke-width="4.8" stroke-linecap="round" fill="none"/>
<path d="M1521.8 2590.5V2597.4" stroke="#000" stroke-width="4.8" fill="none"/>
<path d="M1502.6 2590.5H1541.5" stroke="#000" stroke-width="4.8" stroke-linecap="round" fill="none"/>
<path d="M1668.5 2394.6V2404.7" stroke="#000" stroke-width="4.8" fill="none"/>
<path d="M1649.4 2394.6H1688.6" stroke="#000" stroke-width="4.8" stroke-linecap="round" fill="none"/>
<path d="M242.8 1754.4H2134.7" stroke="#000" stroke-width="5.4" stroke-dasharray="17.8 11.3 5.5 11.23" fill="none"/>
<path d="M243 2167.3H2135.1" stroke="#000" stroke-width="5.4" stroke-dasharray="17.8 11.3 5.5 11.23" fill="none"/>
<path d="M256.5 2583.6H2149.5" stroke="#000" stroke-width="5.4" stroke-dasharray="17.8 11.3 5.5 11.23" fill="none"/>
<rect x="286.4" y="1677.2" width="148.2" height="47.8" fill="#000"/>
<g clip-path="url(#c26)" fill="#c0c0c0">
<rect x="303.4" y="1681.8" width="18.5" height="6.6"/>
<rect x="341.4" y="1681.8" width="18.6" height="6.6"/>
<rect x="379.2" y="1681.8" width="18.2" height="6.6"/>
<rect x="417.5" y="1681.8" width="13.9" height="6.6"/>
<rect x="288" y="1688.4" width="15.4" height="17.2"/>
<rect x="321.9" y="1688.4" width="19.5" height="17.2"/>
<rect x="360" y="1688.4" width="19.2" height="17.2"/>
<rect x="397.4" y="1688.4" width="20.1" height="17.2"/>
<rect x="303.4" y="1705.6" width="18.5" height="17.4"/>
<rect x="341.4" y="1705.6" width="18.6" height="17.4"/>
<rect x="379.2" y="1705.6" width="18.2" height="17.4"/>
<rect x="417.5" y="1705.6" width="13.9" height="17.4"/>
</g>
<rect x="286.4" y="1677.2" width="148.2" height="47.8" fill="none" stroke="#000" stroke-width="5" stroke-linejoin="round"/>
<text transform="translate(469.8 1723.1) scale(1 1.045)" font-family='"Liberation Sans", "DejaVu Sans", sans-serif' font-size="66.7" font-weight="normal" text-anchor="start" fill="#000">R63</text>
<rect x="292.5" y="2091.3" width="148" height="47.6" fill="#fff" stroke="#000" stroke-width="5" stroke-linejoin="round"/>
<rect x="310.3" y="2099.8" width="5.2" height="5.2" fill="#000"/>
<rect x="348.1" y="2099.8" width="5.2" height="5.2" fill="#000"/>
<rect x="385.9" y="2099.8" width="5.2" height="5.2" fill="#000"/>
<rect x="423.9" y="2099.8" width="5.2" height="5.2" fill="#000"/>
<rect x="329.1" y="2108.9" width="5.2" height="5.2" fill="#000"/>
<rect x="367.1" y="2108.9" width="5.2" height="5.2" fill="#000"/>
<rect x="404.9" y="2108.9" width="5.2" height="5.2" fill="#000"/>
<rect x="310.3" y="2118.8" width="5.2" height="5.2" fill="#000"/>
<rect x="348.1" y="2118.8" width="5.2" height="5.2" fill="#000"/>
<rect x="385.9" y="2118.8" width="5.2" height="5.2" fill="#000"/>
<rect x="423.9" y="2118.8" width="5.2" height="5.2" fill="#000"/>
<rect x="329.1" y="2127.9" width="5.2" height="5.2" fill="#000"/>
<rect x="367.1" y="2127.9" width="5.2" height="5.2" fill="#000"/>
<rect x="404.9" y="2127.9" width="5.2" height="5.2" fill="#000"/>
<text transform="translate(476.2 2137.2) scale(1 1.045)" font-family='"Liberation Sans", "DejaVu Sans", sans-serif' font-size="66.7" font-weight="normal" text-anchor="start" fill="#000">R42</text>
<rect x="292.5" y="2503.3" width="148" height="47.1" fill="#c0c0c0"/>
<rect x="299.9" y="2503.3" width="9.2" height="47.1" fill="#000"/>
<rect x="364.2" y="2503.3" width="8.6" height="47.1" fill="#000"/>
<rect x="428.1" y="2503.3" width="8.9" height="47.1" fill="#000"/>
<rect x="292.5" y="2535.6" width="148" height="9.7" fill="#000"/>
<rect x="292.5" y="2503.3" width="148" height="47.1" fill="none" stroke="#000" stroke-width="5" stroke-linejoin="round"/>
<text transform="translate(476.2 2548.7) scale(1 1.045)" font-family='"Liberation Sans", "DejaVu Sans", sans-serif' font-size="66.7" font-weight="normal" text-anchor="start" fill="#000">R2<tspan dx="1.3">1</tspan></text>
<rect x="564.77" y="2541.03" width="14.91" height="10.67" fill="#fff"/>
<rect x="585.68" y="2541.03" width="14.67" height="10.67" fill="#fff"/>
<text transform="translate(99.9 2592.6) rotate(-90) scale(1 0.94)" font-family='"Liberation Serif", "DejaVu Serif", serif' font-size="68.5" font-weight="normal" stroke="#000" stroke-width="1.6" stroke-linejoin="round" fill="#000" xml:space="preserve"><tspan x="-1.91" y="0">C</tspan><tspan x="43.17" y="0">a</tspan><tspan x="75.13" y="0">r</tspan><tspan x="99.98" y="0">n</tspan><tspan x="137.78" y="0">o</tspan><tspan x="172.27" y="0">s</tspan><tspan x="200.57" y="0">o</tspan><tspan x="236.96" y="0">l</tspan><tspan x="256" y="0"> </tspan><tspan x="272.42" y="-6.6" font-size="62.5">(</tspan><tspan x="294.49" y="0">m</tspan><tspan x="349.47" y="0">g</tspan><tspan x="384.88" y="0">/</tspan><tspan x="404.84" y="0">k</tspan><tspan x="441.47" y="0">g</tspan><tspan x="475.9" y="-6.6" font-size="62.5">)</tspan></text>
<text transform="scale(1 1.1)" font-family='"Liberation Serif", "DejaVu Serif", serif' font-weight="bold" fill="#000"><tspan x="1988" y="1566" font-size="59.7">(</tspan><tspan x="2011.8" y="1574" font-size="71.6">B</tspan><tspan x="2063.2" y="1566" font-size="59.7">)</tspan></text>
</svg>
</body>
</html>
